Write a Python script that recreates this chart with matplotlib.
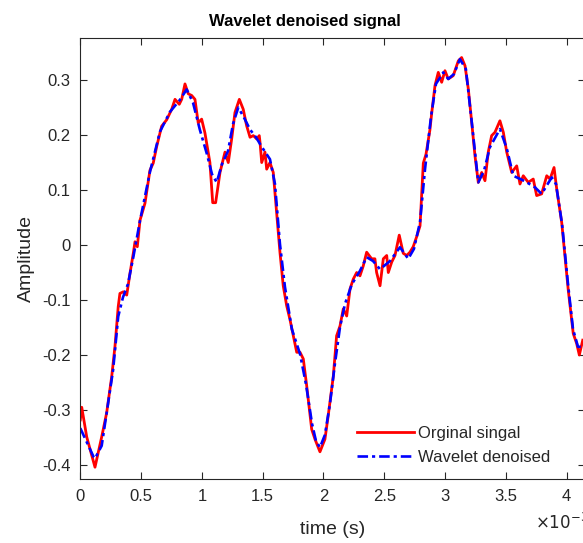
"""Original vs wavelet-denoised signal, MATLAB-style line plot."""

import matplotlib

matplotlib.use("Agg")
import matplotlib.pyplot as plt
from matplotlib.ticker import FuncFormatter
import numpy as np

plt.rcParams["font.family"] = ["Liberation Sans", "DejaVu Sans"]

# original (noisy) signal, time in ms
t_orig_ms = [
    0.000, 0.012, 0.053, 0.121, 0.176, 0.217, 0.258, 0.285, 0.312, 0.326,
    0.354, 0.382, 0.409, 0.436, 0.450, 0.469, 0.491, 0.532, 0.573, 0.600,
    0.628, 0.669, 0.711, 0.752, 0.779, 0.814, 0.834, 0.861, 0.888, 0.916,
    0.943, 0.970, 0.998, 1.025, 1.066, 1.089, 1.113, 1.149, 1.190, 1.217,
    1.245, 1.272, 1.308, 1.340, 1.368, 1.396, 1.423, 1.451, 1.472, 1.478,
    1.492, 1.519, 1.533, 1.560, 1.587, 1.615, 1.642, 1.669, 1.697, 1.724,
    1.752, 1.780, 1.807, 1.834, 1.862, 1.903, 1.930, 1.971, 2.012, 2.039,
    2.081, 2.108, 2.136, 2.163, 2.191, 2.218, 2.245, 2.273, 2.300, 2.327,
    2.355, 2.396, 2.423, 2.437, 2.465, 2.492, 2.520, 2.533, 2.561, 2.588,
    2.623, 2.656, 2.684, 2.711, 2.738, 2.766, 2.794, 2.821, 2.843, 2.875,
    2.890, 2.917, 2.944, 2.972, 2.999, 3.026, 3.067, 3.109, 3.136, 3.164,
    3.191, 3.219, 3.246, 3.273, 3.301, 3.328, 3.355, 3.383, 3.410, 3.451,
    3.479, 3.507, 3.548, 3.589, 3.616, 3.643, 3.684, 3.725, 3.753, 3.794,
    3.836, 3.863, 3.896, 3.918, 3.959, 3.986, 4.013, 4.054, 4.082, 4.104,
    4.132,
]
amp_orig = [
    -0.318, -0.295, -0.349, -0.404, -0.349, -0.305, -0.240, -0.185, -0.112, -0.088,
    -0.085, -0.091, -0.051, -0.015, 0.006, -0.003, 0.045, 0.076, 0.136, 0.149,
    0.179, 0.216, 0.228, 0.247, 0.265, 0.256, 0.265, 0.293, 0.275, 0.272,
    0.265, 0.222, 0.229, 0.204, 0.150, 0.077, 0.077, 0.132, 0.169, 0.150,
    0.193, 0.241, 0.265, 0.247, 0.217, 0.196, 0.199, 0.193, 0.199, 0.187,
    0.150, 0.169, 0.138, 0.150, 0.132, 0.059, -0.013, -0.074, -0.110, -0.135,
    -0.165, -0.195, -0.195, -0.207, -0.256, -0.335, -0.353, -0.376, -0.353, -0.310,
    -0.238, -0.165, -0.147, -0.116, -0.129, -0.080, -0.062, -0.050, -0.056, -0.038,
    -0.013, -0.025, -0.025, -0.050, -0.074, -0.025, -0.019, -0.050, -0.031, -0.019,
    0.018, -0.015, -0.019, -0.013, -0.003, 0.015, 0.035, 0.149, 0.165, 0.209,
    0.240, 0.290, 0.314, 0.296, 0.317, 0.302, 0.308, 0.335, 0.341, 0.326,
    0.284, 0.223, 0.162, 0.114, 0.132, 0.117, 0.169, 0.199, 0.205, 0.226,
    0.205, 0.169, 0.132, 0.144, 0.111, 0.126, 0.114, 0.120, 0.090, 0.093,
    0.126, 0.120, 0.141, 0.102, 0.041, -0.021, -0.082, -0.161, -0.179, -0.200,
    -0.173,
]

# wavelet denoised signal, time in ms
t_den_ms = [
    0.000, 0.109, 0.121, 0.176, 0.217, 0.270, 0.312, 0.351, 0.392, 0.436,
    0.491, 0.573, 0.655, 0.737, 0.819, 0.875, 0.927, 0.983, 1.042, 1.083,
    1.122, 1.165, 1.215, 1.256, 1.299, 1.346, 1.396, 1.445, 1.494, 1.560,
    1.601, 1.642, 1.683, 1.740, 1.807, 1.856, 1.906, 1.938, 1.971, 2.012,
    2.053, 2.094, 2.136, 2.177, 2.234, 2.300, 2.355, 2.407, 2.465, 2.547,
    2.629, 2.697, 2.744, 2.794, 2.835, 2.884, 2.925, 2.985, 3.026, 3.073,
    3.122, 3.171, 3.221, 3.273, 3.320, 3.369, 3.451, 3.508, 3.561, 3.657,
    3.739, 3.794, 3.877, 3.912, 3.962, 4.011, 4.052, 4.093, 4.126,
]
amp_den = [
    -0.333, -0.385, -0.388, -0.365, -0.305, -0.227, -0.130, -0.095, -0.071, -0.022,
    0.044, 0.133, 0.206, 0.242, 0.264, 0.283, 0.259, 0.210, 0.165, 0.129,
    0.114, 0.147, 0.171, 0.220, 0.250, 0.232, 0.210, 0.196, 0.178, 0.156,
    0.111, 0.002, -0.076, -0.153, -0.198, -0.253, -0.325, -0.356, -0.368, -0.345,
    -0.289, -0.216, -0.149, -0.107, -0.071, -0.047, -0.022, -0.029, -0.044, -0.029,
    -0.004, -0.025, -0.007, 0.042, 0.138, 0.233, 0.293, 0.314, 0.302, 0.311,
    0.338, 0.320, 0.220, 0.114, 0.135, 0.178, 0.211, 0.175, 0.126, 0.116,
    0.105, 0.093, 0.123, 0.111, 0.038, -0.071, -0.153, -0.185, -0.185,
]

x_ticks_ms = [0, 0.5, 1, 1.5, 2, 2.5, 3, 3.5, 4]
y_ticks = [-0.4, -0.3, -0.2, -0.1, 0, 0.1, 0.2, 0.3]

TXT = "#262626"

fig = plt.figure(figsize=(5.83, 5.43), dpi=100)
ax = fig.add_axes([0.1377, 0.1173, 0.8656, 0.8122])

t_orig = np.asarray(t_orig_ms) * 1e-3
t_den = np.asarray(t_den_ms) * 1e-3
ax.plot(t_orig, amp_orig, color="red", lw=2.0, label="Orginal singal")
ax.plot(t_den, amp_den, color="blue", lw=1.9, ls=(0, (4, 1.5, 1.2, 1.5)),
        label="Wavelet denoised")

ax.set_xlim(0, 4.15e-3)
ax.set_ylim(-0.426, 0.376)
ax.set_xticks(np.asarray(x_ticks_ms) * 1e-3)
ax.xaxis.set_major_formatter(FuncFormatter(lambda v, _: f"{v * 1e3:g}"))
ax.set_yticks(y_ticks)
ax.yaxis.set_major_formatter(FuncFormatter(lambda v, _: f"{v:g}"))

ax.tick_params(direction="in", length=5, width=0.8, top=True, right=True,
               labelsize=12, colors=TXT, pad=7)
for side in ax.spines.values():
    side.set_color(TXT)
    side.set_linewidth(0.8)

ax.set_xlabel("time (s)", fontsize=14, color=TXT, labelpad=12)
ax.set_ylabel("Amplitude", fontsize=14, color=TXT, labelpad=5)
fig.text(305 / 583, 1 - 26 / 543, "Wavelet denoised signal", ha="center",
         va="baseline", fontsize=12, fontweight="bold", color="black")
# exponent for the time axis, sits at the right end below the tick labels
fig.text(535 / 583, 1 - 529 / 543, r"$\times10^{-3}$", ha="left",
         va="baseline", fontsize=12, color=TXT)

leg = ax.legend(loc="lower right", bbox_to_anchor=(0.96, 0.0), frameon=False,
                fontsize=12, handlelength=3.4, handletextpad=0.25,
                labelspacing=0.55, borderaxespad=0.45)
for text in leg.get_texts():
    text.set_color(TXT)

fig.savefig("out.png", dpi=100)
